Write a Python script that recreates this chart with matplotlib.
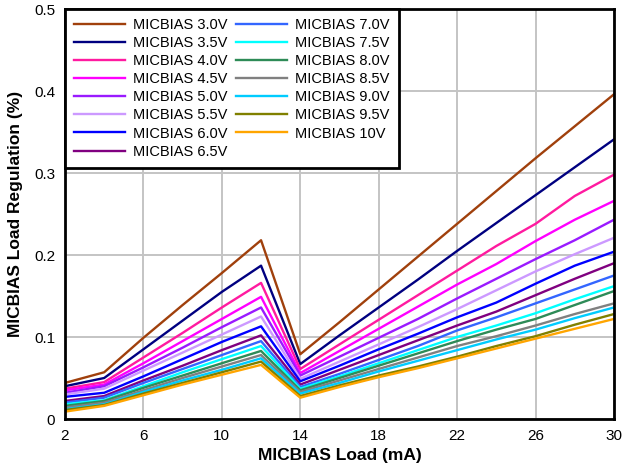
import matplotlib
matplotlib.use("Agg")
import matplotlib.pyplot as plt
from matplotlib.ticker import FuncFormatter

plt.rcParams['font.family'] = ['Liberation Sans', 'DejaVu Sans']

load_ma = [2, 4, 6, 8, 10, 12, 14, 16, 18, 20, 22, 24, 26, 28, 30]

labels = ["MICBIAS 3.0V", "MICBIAS 3.5V", "MICBIAS 4.0V", "MICBIAS 4.5V",
          "MICBIAS 5.0V", "MICBIAS 5.5V", "MICBIAS 6.0V", "MICBIAS 6.5V",
          "MICBIAS 7.0V", "MICBIAS 7.5V", "MICBIAS 8.0V", "MICBIAS 8.5V",
          "MICBIAS 9.0V", "MICBIAS 9.5V", "MICBIAS 10V"]

v3_0 = [0.044, 0.057, 0.099, 0.139, 0.178, 0.218, 0.079, 0.118, 0.158, 0.198, 0.238, 0.278, 0.318, 0.357, 0.396]
v3_5 = [0.040, 0.050, 0.085, 0.120, 0.155, 0.187, 0.067, 0.102, 0.136, 0.170, 0.205, 0.239, 0.273, 0.307, 0.341]
v4_0 = [0.037, 0.045, 0.075, 0.105, 0.136, 0.166, 0.061, 0.091, 0.121, 0.151, 0.181, 0.211, 0.238, 0.272, 0.298]
v4_5 = [0.035, 0.042, 0.068, 0.095, 0.122, 0.149, 0.056, 0.083, 0.110, 0.137, 0.164, 0.189, 0.217, 0.243, 0.266]
v5_0 = [0.032, 0.040, 0.063, 0.087, 0.112, 0.136, 0.053, 0.076, 0.099, 0.122, 0.147, 0.171, 0.195, 0.218, 0.243]
v5_5 = [0.030, 0.037, 0.059, 0.081, 0.103, 0.125, 0.049, 0.070, 0.091, 0.112, 0.134, 0.157, 0.180, 0.201, 0.221]
v6_0 = [0.027, 0.032, 0.052, 0.073, 0.094, 0.113, 0.046, 0.065, 0.085, 0.104, 0.124, 0.142, 0.165, 0.187, 0.204]
v6_5 = [0.022, 0.028, 0.047, 0.065, 0.084, 0.102, 0.042, 0.060, 0.078, 0.096, 0.114, 0.131, 0.151, 0.171, 0.190]
v7_0 = [0.020, 0.026, 0.044, 0.061, 0.078, 0.095, 0.039, 0.055, 0.072, 0.089, 0.108, 0.124, 0.141, 0.158, 0.175]
v7_5 = [0.018, 0.023, 0.040, 0.057, 0.073, 0.089, 0.037, 0.052, 0.068, 0.084, 0.100, 0.114, 0.129, 0.146, 0.162]
v8_0 = [0.016, 0.022, 0.038, 0.053, 0.068, 0.083, 0.035, 0.050, 0.065, 0.080, 0.095, 0.109, 0.122, 0.139, 0.156]
v8_5 = [0.014, 0.020, 0.035, 0.050, 0.064, 0.078, 0.033, 0.047, 0.061, 0.075, 0.089, 0.101, 0.114, 0.128, 0.141]
v9_0 = [0.012, 0.018, 0.033, 0.047, 0.060, 0.074, 0.031, 0.044, 0.058, 0.071, 0.084, 0.097, 0.109, 0.123, 0.136]
v9_5 = [0.011, 0.017, 0.031, 0.044, 0.057, 0.070, 0.028, 0.041, 0.053, 0.064, 0.076, 0.089, 0.101, 0.115, 0.128]
v10 = [0.009, 0.016, 0.029, 0.042, 0.054, 0.066, 0.026, 0.039, 0.051, 0.062, 0.074, 0.086, 0.098, 0.110, 0.122]

series = [v3_0, v3_5, v4_0, v4_5, v5_0, v5_5, v6_0, v6_5,
          v7_0, v7_5, v8_0, v8_5, v9_0, v9_5, v10]

colors = ["#a0400c", "#000080", "#ff1aa0", "#ff00ff", "#9a1aff", "#cc99ff",
          "#0000ff", "#800080", "#3366ff", "#00ffff", "#2e8b57", "#808080",
          "#00ccff", "#808000", "#ffa500"]

xticks = [2, 6, 10, 14, 18, 22, 26, 30]
yticks = [0, 0.1, 0.2, 0.3, 0.4, 0.5]

fig = plt.figure(figsize=(6.23, 4.69), dpi=100)
ax = fig.add_axes([0.1043, 0.1066, 0.8812, 0.8742])

for vals, lab, col in zip(series, labels, colors):
    ax.plot(load_ma, vals, color=col, lw=1.7, label=lab)

ax.set_xlim(2, 30)
ax.set_ylim(0, 0.5)
ax.set_xticks(xticks)
ax.set_yticks(yticks)
ax.yaxis.set_major_formatter(FuncFormatter(lambda v, p: "0" if v == 0 else f"{v:.1f}"))
ax.grid(True, color="#c4c4c4", lw=1.4)
ax.set_axisbelow(True)
ax.tick_params(length=0, labelsize=11, pad=7)
for s in ax.spines.values():
    s.set_linewidth(2)
    s.set_color("black")

ax.set_xlabel("MICBIAS Load (mA)", fontsize=12.5, fontweight="bold", labelpad=4)
ax.set_ylabel("MICBIAS Load Regulation (%)", fontsize=12.5, fontweight="bold", labelpad=8)

leg = ax.legend(loc="upper left", ncol=2, fontsize=10.5, frameon=True, fancybox=False,
                borderaxespad=0, handlelength=3.5, handletextpad=0.55,
                columnspacing=0.6, labelspacing=0.28, borderpad=0.62)
leg.get_frame().set_edgecolor("black")
leg.get_frame().set_linewidth(2)
leg.get_frame().set_alpha(1)

fig.savefig("out.png", dpi=100)
